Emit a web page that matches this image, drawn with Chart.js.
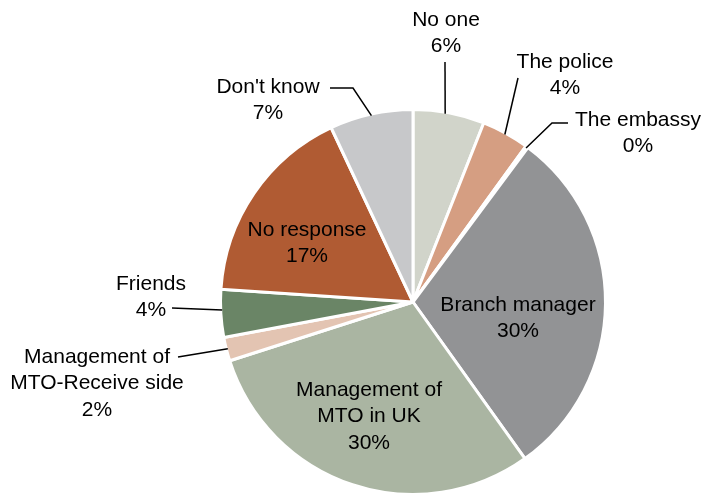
<!DOCTYPE html>
<html>
<head>
<meta charset="utf-8">
<script src="https://cdn.jsdelivr.net/npm/chart.js@4"></script>
<style>
  html, body { margin: 0; padding: 0; background: #fff; }
  canvas { display: block; }
</style>
</head>
<body>
<canvas id="pieChart" width="707" height="494"></canvas>
<script>
const categories = [
  "No one",
  "The police",
  "The embassy",
  "Branch manager",
  "Management of\nMTO in UK",
  "Management of\nMTO-Receive side",
  "Friends",
  "No response",
  "Don't know"
];
const shares = [6, 4, 0.2, 30, 30, 2, 4, 17, 7];
const sliceColors = [
  "#d1d4ca", "#d59e82", "#929395", "#929395", "#aab5a2",
  "#e3c4b2", "#6a8566", "#b05b33", "#c7c8ca"
];

// label placement, offsets from the pie centre (x = text centre, y = first line)
const labelSpots = [
  [33, -282], [152, -240], [225, -182], [105, 3], [-44, 88],
  [-316, 55], [-262, -18], [-106, -72], [-145, -215]
];
// leader lines for the outside labels: where along the slice they start (0..1)
// and the points they run to after leaving the edge
const leaders = {
  0: { at: 0.45, pts: [[32, -240]] },
  1: { at: 0.5, pts: [[105, -224]] },
  2: { at: 0.5, pts: [[139, -179], [155, -179]] },
  5: { at: 0.5, pts: [[-235, 55]] },
  6: { at: 0.57, pts: [[-241, 6]] },
  8: { at: 0.5, pts: [[-60, -214], [-83, -214]] }
};

const labelPlugin = {
  id: "sliceLabels",
  afterDatasetsDraw(chart) {
    const ctx = chart.ctx;
    const arcs = chart.getDatasetMeta(0).data;
    ctx.save();
    ctx.font = "21px 'Liberation Sans', Arial, sans-serif";
    ctx.fillStyle = "#000";
    ctx.strokeStyle = "#000";
    ctx.lineWidth = 1.5;
    ctx.textAlign = "center";
    ctx.textBaseline = "middle";

    arcs.forEach((arc, i) => {
      const p = arc.getProps(["x", "y", "startAngle", "endAngle", "outerRadius"], true);
      const cx = p.x, cy = p.y;

      const lead = leaders[i];
      if (lead) {
        const a = p.startAngle + (p.endAngle - p.startAngle) * lead.at;
        const r = p.outerRadius - 1.5;
        ctx.beginPath();
        ctx.moveTo(cx + Math.cos(a) * r, cy + Math.sin(a) * r);
        lead.pts.forEach(pt => ctx.lineTo(cx + pt[0], cy + pt[1]));
        ctx.stroke();
      }

      const lines = categories[i].split("\n");
      lines.push(Math.round(shares[i]) + "%");
      const [dx, dy] = labelSpots[i];
      lines.forEach((t, k) => ctx.fillText(t, cx + dx, cy + dy + k * 26.5));
    });
    ctx.restore();
  }
};

new Chart(document.getElementById("pieChart").getContext("2d"), {
  type: "pie",
  data: {
    labels: categories,
    datasets: [{
      data: shares,
      backgroundColor: sliceColors,
      borderColor: "#ffffff",
      borderWidth: 3,
      radius: 192.5
    }]
  },
  options: {
    responsive: false,
    animation: false,
    layout: { padding: { left: 222, right: 103, top: 112, bottom: 2 } },
    plugins: {
      legend: { display: false },
      tooltip: { enabled: false }
    }
  },
  plugins: [labelPlugin]
});
</script>
</body>
</html>
